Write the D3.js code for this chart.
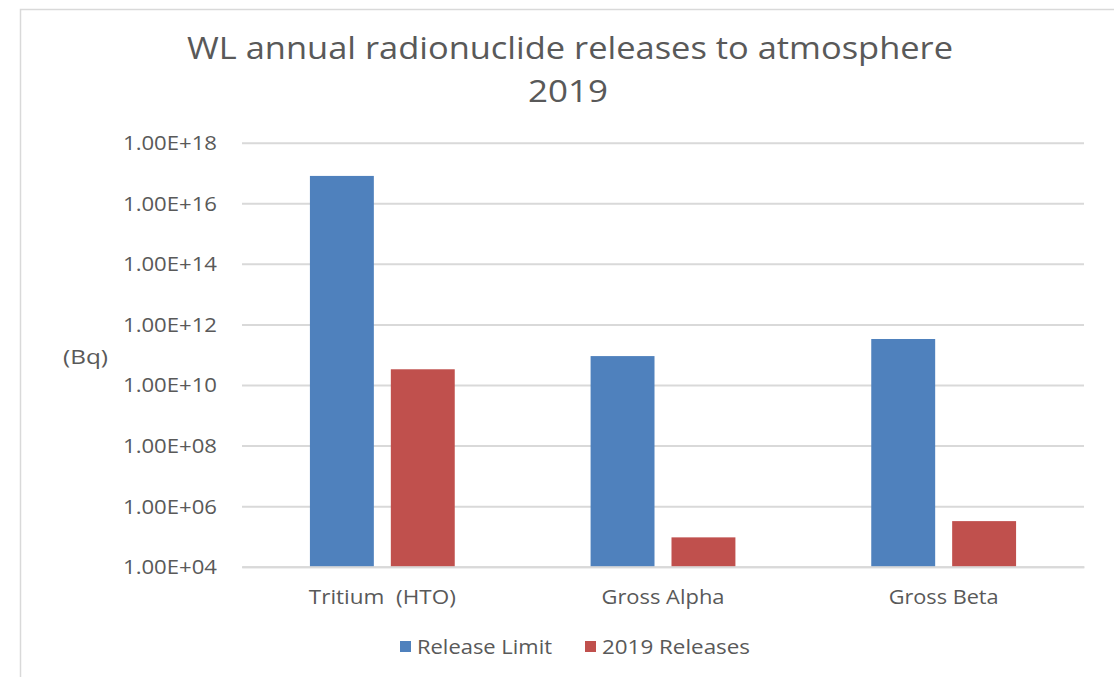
<!DOCTYPE html>
<html><head><meta charset="utf-8">
<script src="https://cdn.jsdelivr.net/npm/d3@7"></script>
<style>
html,body{margin:0;padding:0;background:#fff;}
svg text{font-family:"Open Sans","DejaVu Sans",sans-serif;fill:#595959;}
</style></head>
<body>
<svg id="chart" width="1114" height="677"></svg>
<script>
const categories = ["Tritium  (HTO)", "Gross Alpha", "Gross Beta"];
const seriesNames = ["Release Limit", "2019 Releases"];
const releaseLimit = [8.0e16, 9.0e10, 3.3e11];
const releases2019 = [3.3e10, 9.3e4, 3.2e5];
const yTicks = [1e4, 1e6, 1e8, 1e10, 1e12, 1e14, 1e16, 1e18];
const colors = ["#4F81BD", "#C0504D"];
const titleLines = ["WL annual radionuclide releases to atmosphere", "2019"];
const yAxisTitle = "(Bq)";

const svg = d3.select("#chart");
const plot = {left: 242, right: 1084, top: 142.7, bottom: 566.7};

// chart border
svg.append("rect").attr("x", 20.5).attr("y", 9.5).attr("width", 1200).attr("height", 800)
  .attr("fill", "none").attr("stroke", "#d9d9d9").attr("stroke-width", 1.5);

const y = d3.scaleLog().domain([1e4, 1e18]).range([plot.bottom, plot.top]);
const x0 = d3.scaleBand().domain(categories).range([plot.left, plot.right])
  .paddingInner(0.484).paddingOuter(0.242);
const x1 = d3.scaleBand().domain(seriesNames).range([0, x0.bandwidth()])
  .paddingInner(0.21).paddingOuter(0);

function fit(sel, w) { sel.attr("textLength", w).attr("lengthAdjust", "spacingAndGlyphs"); return sel; }

// gridlines + y axis via d3.axisLeft
const yAxis = d3.axisLeft(y).tickValues(yTicks)
  .tickFormat(d => d3.format(".2e")(d).toUpperCase().replace(/E\+?(\d+)$/, (m, e) => "E+" + e.padStart(2, "0")))
  .tickSize(-(plot.right - plot.left)).tickPadding(25);
const gy = svg.append("g").attr("transform", `translate(${plot.left},0)`).call(yAxis);
gy.select(".domain").remove();
gy.selectAll(".tick line").attr("stroke", "#d9d9d9").attr("stroke-width", 2);
gy.selectAll(".tick text").attr("font-size", 20).attr("fill", "#595959")
  .style("font-family", '"Open Sans",sans-serif').attr("dy", "0.35em").each(function(){ fit(d3.select(this), 94); });

// bars
const data = categories.map((c, i) => ({cat: c, vals: [releaseLimit[i], releases2019[i]]}));
const groups = svg.append("g").selectAll("g").data(data).join("g")
  .attr("transform", d => `translate(${x0(d.cat)},0)`);
groups.selectAll("rect").data(d => d.vals.map((v, j) => ({name: seriesNames[j], v, j})))
  .join("rect")
  .attr("x", d => x1(d.name)).attr("width", x1.bandwidth())
  .attr("y", d => y(d.v)).attr("height", d => plot.bottom - y(d.v))
  .attr("fill", d => colors[d.j]);

// x axis
const xAxis = d3.axisBottom(x0).tickSize(0).tickPadding(0);
const gx = svg.append("g").attr("transform", `translate(0,${plot.bottom})`).call(xAxis);
gx.select(".domain").attr("stroke", "#d9d9d9").attr("stroke-width", 2);
gx.selectAll(".tick text").attr("font-size", 19.5).attr("fill", "#595959")
  .style("font-family", '"Open Sans",sans-serif').attr("y", 37).attr("dy", 0)
  .style("white-space", "pre").attr("xml:space", "preserve");
const labelW = [147, 123, 110];
gx.selectAll(".tick text").each(function(d, i){ fit(d3.select(this), labelW[i]); });

// title
const t = svg.append("text").attr("text-anchor", "middle").attr("font-size", 30.5);
fit(t.append("tspan").attr("x", 570).attr("y", 58.5).text(titleLines[0]), 766);
fit(t.append("tspan").attr("x", 568).attr("y", 101.5).text(titleLines[1]), 80);

// y axis title
fit(svg.append("text").attr("x", 63).attr("y", 364).attr("font-size", 19.5).text(yAxisTitle), 45);

// legend
const legend = [{x: 400, tx: 417, w: 135}, {x: 585, tx: 602, w: 148}];
seriesNames.forEach((s, i) => {
  svg.append("rect").attr("x", legend[i].x).attr("y", 641).attr("width", 11).attr("height", 11).attr("fill", colors[i]);
  fit(svg.append("text").attr("x", legend[i].tx).attr("y", 654).attr("font-size", 19.5).text(s), legend[i].w);
});
</script>
</body></html>
